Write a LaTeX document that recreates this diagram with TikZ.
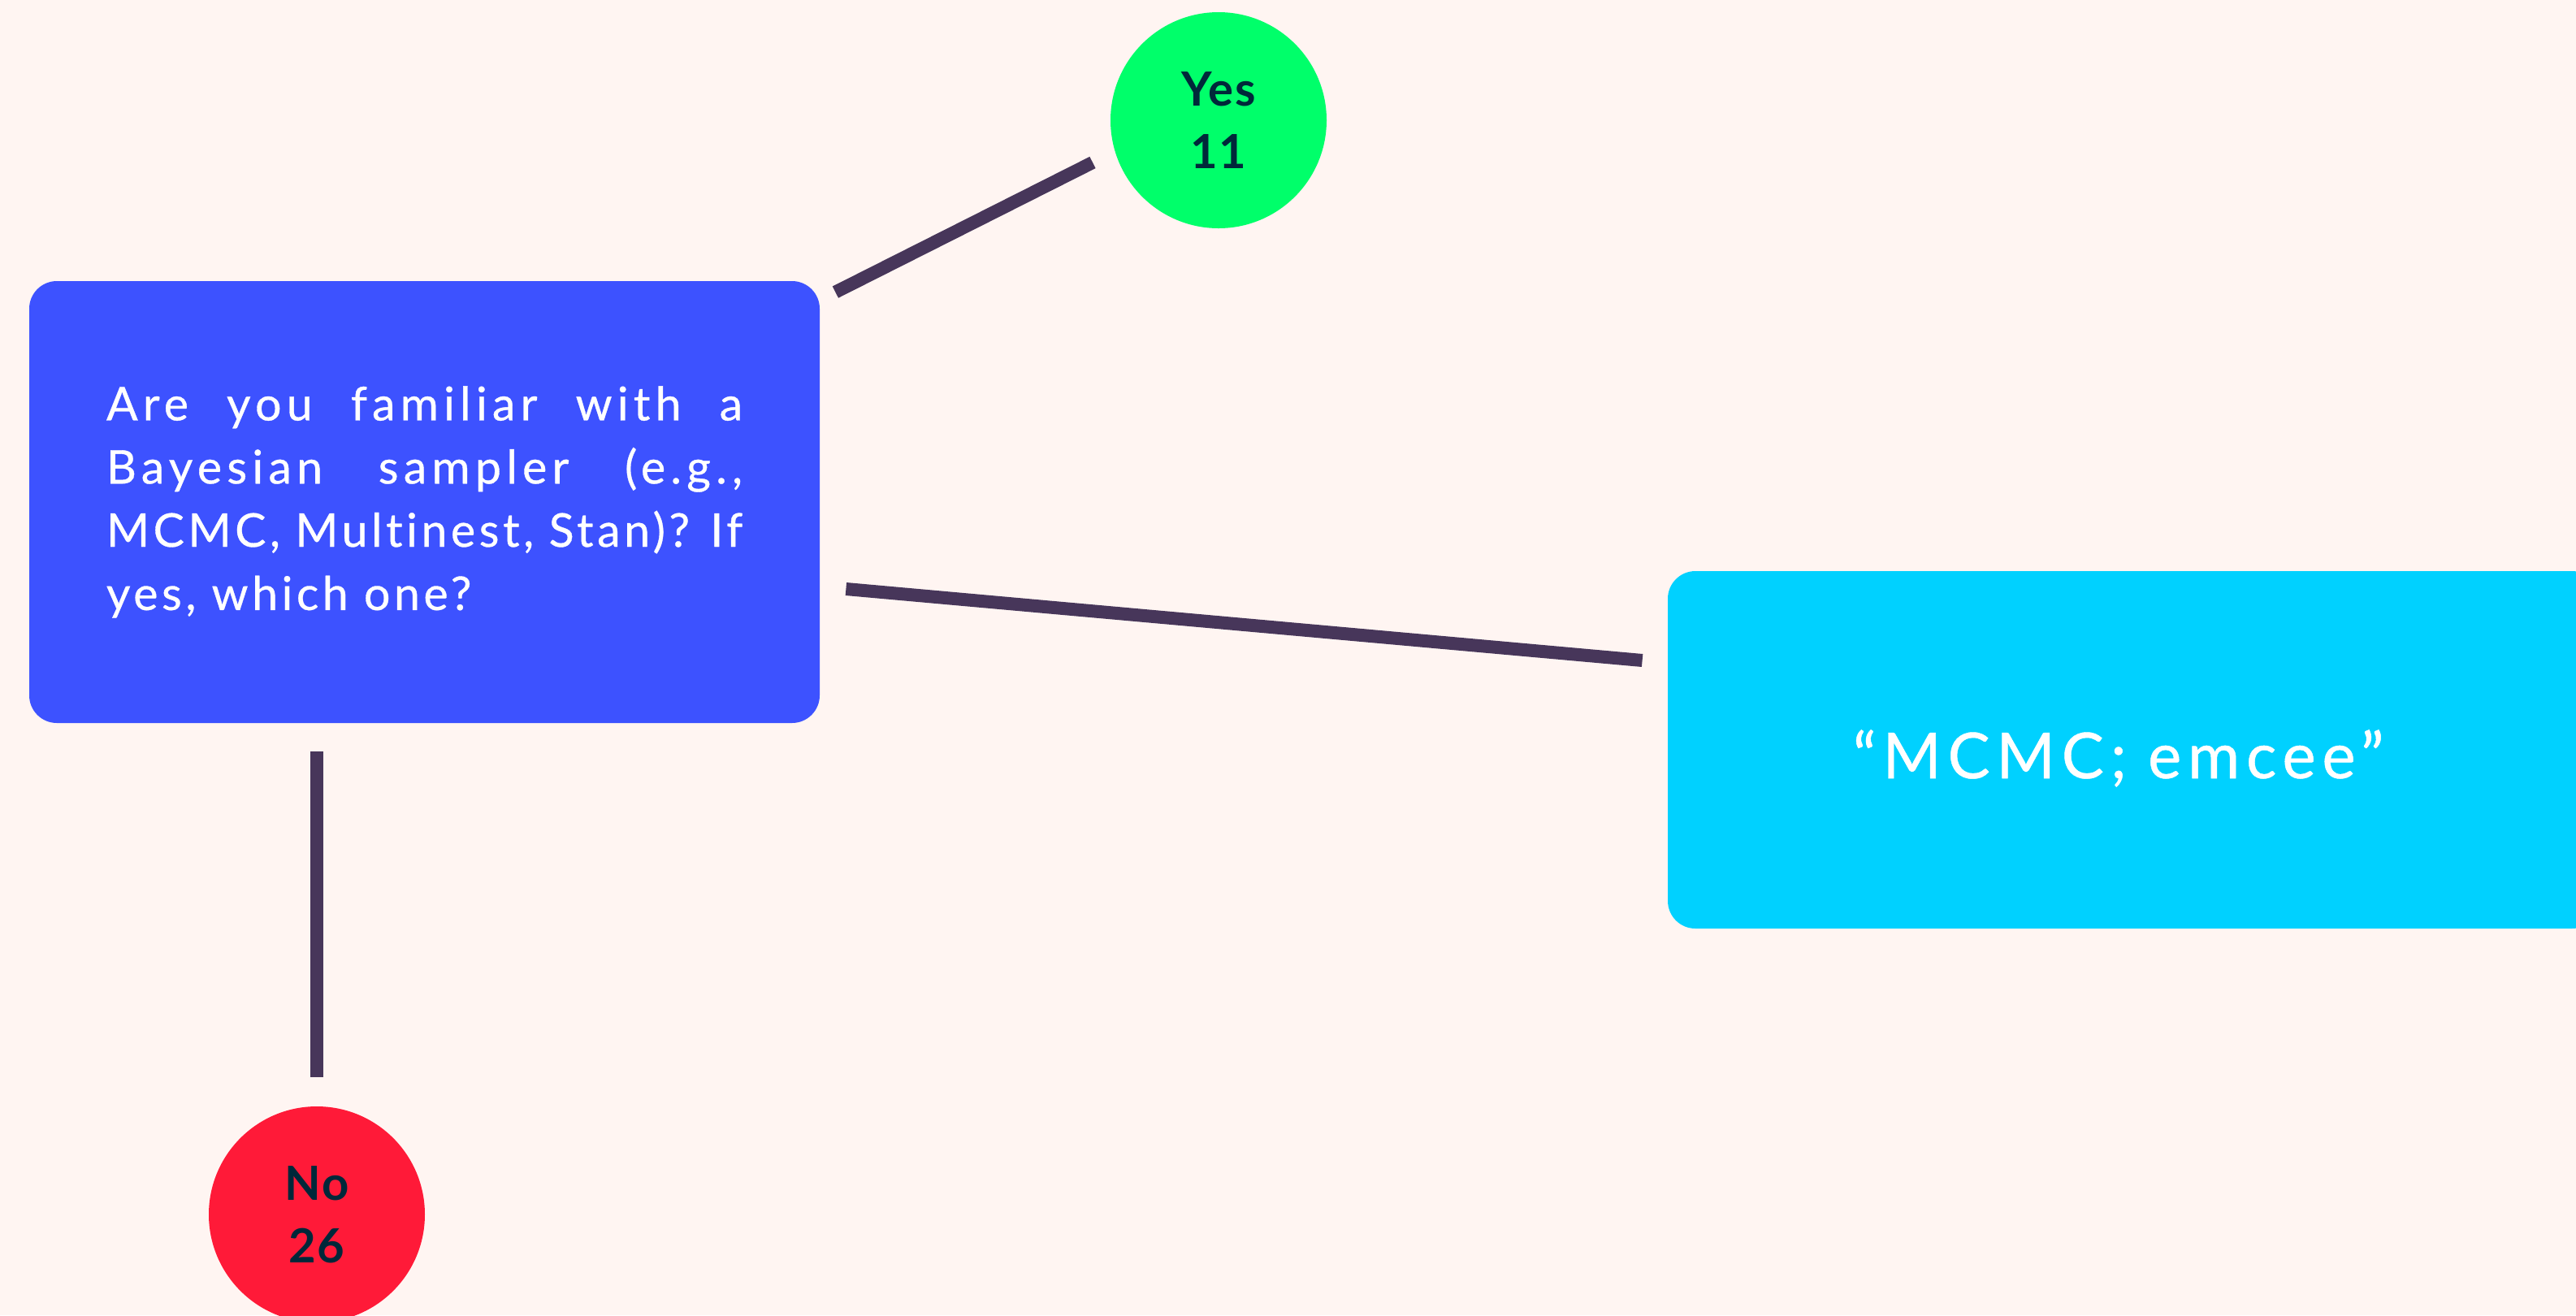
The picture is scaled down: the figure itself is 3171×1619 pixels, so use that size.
\documentclass[tikz,border=0pt]{standalone}
\usepackage{fontspec}
\setmainfont[Ligatures=NoCommon]{Lato}
\usepackage{tikz}

\definecolor{bgcol}{RGB}{255,245,242}
\definecolor{qcol}{RGB}{61,82,255}
\definecolor{anscol}{RGB}{0,209,255}
\definecolor{yescol}{RGB}{0,255,106}
\definecolor{nocol}{RGB}{255,26,56}
\definecolor{inkcol}{RGB}{0,40,58}
\definecolor{linkcol}{RGB}{71,54,90}

\begin{document}
\begin{tikzpicture}[x=0.5pt, y=-0.5pt,
		box/.style={rounded corners=17pt, inner sep=0pt, text=white},
		dot/.style={circle, minimum size=133pt, inner sep=0pt, text=inkcol, align=center, font=\fontsize{29}{38.5}\selectfont\bfseries\addfontfeature{LetterSpace=3}},
		link/.style={draw=linkcol, line width=8pt}]
		\useasboundingbox (0, 0) rectangle (3171, 1619);
		\fill[bgcol] (0, 0) rectangle (3171, 1619);
		\clip (0, 0) rectangle (3171, 1619);
		%%
		\node[box, fill=qcol, minimum width=486.5pt, minimum height=272pt, text width=391.5pt, align=justify, font=\fontsize{28.6}{38.9}\selectfont\addfontfeature{LetterSpace=8, FakeBold=0.6}] (q) at (522.5, 618) {{\addfontfeature{LetterSpace=11}Are you familiar with a\linebreak Bayesian sampler (e.g.,\linebreak}MCMC, Multinest, Stan)? If\linebreak yes, which one?};
		\node[box, fill=anscol, minimum width=573.5pt, minimum height=220pt, inner xsep=114pt, text width=345.5pt, text height=35pt, text depth=0pt, align=left, font=\fontsize{39}{46}\selectfont\addfontfeature{LetterSpace=10, FakeBold=0.6}] (ans) at (2626.5, 923) {“MCMC; emcee”};
		%%
		\node[dot, fill=yescol] (yes) at (1500, 148) {Yes\\11};
		\node[dot, fill=nocol] (no) at (390, 1495) {No\\26};
		%%
		\draw[link] ([shift={(19, 14)}]q.north east) -- ([shift={(-155, 52)}]yes.center);
		\draw[link] ([shift={(32, 107)}]q.east) -- ([shift={(-31, -110)}]ans.west);
		\draw[link] ([shift={(-132.5, 35)}]q.south) -- ([shift={(0, -36)}]no.north);
	\end{tikzpicture}
\end{document}
